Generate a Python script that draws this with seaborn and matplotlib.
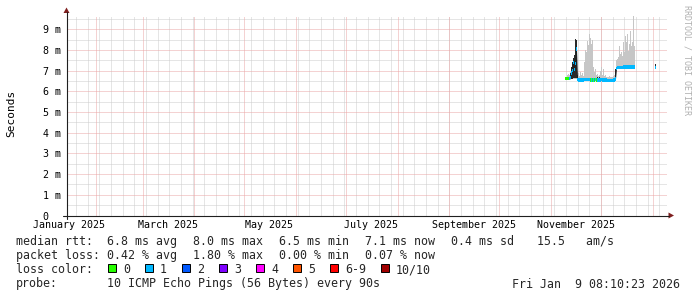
import numpy as np
import pandas as pd
import matplotlib
matplotlib.use("Agg")
import matplotlib.pyplot as plt
import seaborn as sns
from matplotlib.lines import Line2D
from matplotlib.patches import Rectangle, Polygon

# ---------------- data ----------------
axis_start = "2025-01-14 08:10:23"
axis_end = "2026-01-09 08:10:23"

seg_a_start = "2025-11-09 18:00"
seg_b_start = "2026-01-02 18:00"
step = "864min"  # one consolidated RRD step (~0.6 day per pixel)

seg_a_median = [6.62, 6.63, 6.62, 6.63, 6.64, 6.66, 6.90, 7.00, 7.40, 7.05,
                7.35, 8.05, 6.58, 6.56, 6.56, 6.55, 6.56, 6.56, 6.56, 6.57,
                6.57, 6.57, 6.57, 6.57, 6.57, 6.56, 6.56, 6.56, 6.56, 6.56,
                6.57, 6.56, 6.56, 6.56, 6.56, 6.56, 6.57, 6.56, 6.56, 6.55,
                6.55, 6.55, 6.54, 6.54, 6.54, 6.54, 6.54, 6.54, 6.55, 6.55,
                6.60, 7.10, 7.15, 7.17, 7.17, 7.17, 7.17, 7.17, 7.18, 7.18,
                7.18, 7.18, 7.18, 7.18, 7.18, 7.18, 7.18, 7.18, 7.18, 7.18]
seg_a_loss = [0, 0, 0, 0, 1, 1, 1, 1, 1, 1,
              1, 1, 1, 1, 1, 1, 1, 1, 1, 1,
              1, 1, 1, 1, 1, 0, 1, 0, 1, 0,
              1, 0, 1, 1, 1, 1, 1, 1, 1, 1,
              1, 1, 1, 1, 1, 1, 1, 1, 1, 1,
              1, 1, 1, 1, 1, 1, 1, 1, 1, 1,
              1, 1, 1, 1, 1, 1, 1, 1, 1, 1]
seg_a_smoke_lo = [6.55, 6.55, 6.55, 6.55, 6.55, 6.56, 6.58, 6.58, 6.60, 6.60,
                  6.60, 6.60, 6.52, 6.50, 6.50, 6.50, 6.50, 6.50, 6.50, 6.50,
                  6.50, 6.50, 6.50, 6.50, 6.50, 6.50, 6.50, 6.50, 6.50, 6.50,
                  6.50, 6.50, 6.50, 6.50, 6.50, 6.50, 6.50, 6.50, 6.50, 6.50,
                  6.50, 6.50, 6.49, 6.49, 6.49, 6.49, 6.49, 6.49, 6.49, 6.49,
                  6.50, 7.05, 7.08, 7.10, 7.10, 7.10, 7.10, 7.10, 7.10, 7.10,
                  7.10, 7.10, 7.10, 7.10, 7.10, 7.10, 7.10, 7.10, 7.10, 7.10]
seg_a_smoke_hi = [6.70, 6.72, 6.78, 6.85, 6.80, 6.95, 7.20, 7.45, 7.60, 7.75,
                  8.55, 8.50, 6.95, 6.90, 6.75, 6.92, 6.80, 6.90, 6.75, 7.45,
                  8.00, 7.90, 8.45, 8.25, 8.80, 8.60, 8.30, 8.50, 7.20, 6.95,
                  7.10, 6.80, 6.85, 6.75, 6.80, 7.00, 7.18, 6.80, 7.10, 6.75,
                  6.80, 6.70, 6.72, 6.70, 6.75, 6.72, 6.70, 6.72, 6.75, 6.80,
                  7.05, 7.50, 7.55, 7.65, 8.20, 7.80, 7.90, 7.70, 8.38, 7.90,
                  8.70, 8.40, 8.80, 7.95, 8.30, 8.95, 8.20, 8.40, 9.68, 8.20]
nan = np.nan
seg_a_dark_lo = [nan, nan, nan, nan, nan, 6.62, 6.62, 6.62, 6.65, 6.65,
                 6.65, 6.65, 6.58, nan, nan, nan, nan, nan, nan, nan,
                 nan, nan, nan, nan, nan, nan, nan, nan, nan, nan,
                 nan, nan, 6.58, nan, 6.58, nan, nan, nan, nan, nan,
                 nan, nan, nan, nan, nan, nan, nan, nan, nan, nan,
                 6.55, nan, nan, nan, nan, nan, nan, nan, nan, nan,
                 nan, nan, nan, nan, nan, nan, nan, nan, nan, nan]
seg_a_dark_hi = [nan, nan, nan, nan, nan, 6.90, 7.20, 7.45, 7.60, 7.75,
                 8.55, 8.50, 6.80, nan, nan, nan, nan, nan, nan, nan,
                 nan, nan, nan, nan, nan, nan, nan, nan, nan, nan,
                 nan, nan, 6.70, nan, 6.72, nan, nan, nan, nan, nan,
                 nan, nan, nan, nan, nan, nan, nan, nan, nan, nan,
                 7.10, nan, nan, nan, nan, nan, nan, nan, nan, nan,
                 nan, nan, nan, nan, nan, nan, nan, nan, nan, nan]

seg_b_median = [7.15]
seg_b_loss = [1]
seg_b_smoke_lo = [7.12]
seg_b_smoke_hi = [7.35]
seg_b_dark_lo = [7.15]
seg_b_dark_hi = [7.35]

loss_labels = ["0", "1", "2", "3", "4", "5", "6-9", "10/10"]
loss_colors = ["#26ff00", "#00b8ff", "#0059ff", "#7e00ff",
               "#ff00ff", "#ff5500", "#ff0000", "#a00000"]

y_ticks = [0, 1, 2, 3, 4, 5, 6, 7, 8, 9]
y_tick_labels = ["0  ", "1 m", "2 m", "3 m", "4 m", "5 m", "6 m", "7 m", "8 m", "9 m"]
y_max = 9.676

month_label_dates = ["2025-01-16", "2025-03-16", "2025-05-16",
                     "2025-07-16", "2025-09-16", "2025-11-16"]
month_labels = ["January 2025", "March 2025", "May 2025",
                "July 2025", "September 2025", "November 2025"]

row1_head = "median rtt:"
row1_items = ["6.8 ms avg", "8.0 ms max", "6.5 ms min", "7.1 ms now",
              "0.4 ms sd", "15.5   am/s"]
row2_head = "packet loss:"
row2_items = ["0.42 % avg", "1.80 % max", "0.00 % min", "0.07 % now"]
row3_head = "loss color:"
row4_head = "probe:"
row4_text = "10 ICMP Echo Pings (56 Bytes) every 90s"
stamp = "Fri Jan  9 08:10:23 2026"
y_title = "Seconds"
watermark = "RRDTOOL / TOBI OETIKER"

# ---------------- assemble tables ----------------
def segment(start, med, loss, lo, hi, dlo, dhi, seg_id):
    return pd.DataFrame({
        "time": pd.date_range(start, periods=len(med), freq=step),
        "median": med, "loss": loss, "lo": lo, "hi": hi,
        "dlo": dlo, "dhi": dhi, "seg": seg_id})

df = pd.concat([
    segment(seg_a_start, seg_a_median, seg_a_loss, seg_a_smoke_lo,
            seg_a_smoke_hi, seg_a_dark_lo, seg_a_dark_hi, 0),
    segment(seg_b_start, seg_b_median, seg_b_loss, seg_b_smoke_lo,
            seg_b_smoke_hi, seg_b_dark_lo, seg_b_dark_hi, 1),
], ignore_index=True)

# ---------------- figure ----------------
sns.set_theme(style="white")
plt.rcParams["font.family"] = ["DejaVu Sans Mono", "DejaVu Sans"]

W, H = 697, 297
def fx(x): return x / W
def fy(y): return 1 - y / H

L, R, T, B = 66.5, 666.5, 15.5, 215.5
fig = plt.figure(figsize=(W / 100, H / 100), dpi=100, facecolor="white")
ax = fig.add_axes([fx(L), fy(B), (R - L) / W, (B - T) / H])
ax.set_facecolor("white")
for s in ax.spines.values():
    s.set_visible(False)

t0, t1 = pd.Timestamp(axis_start), pd.Timestamp(axis_end)
ax.set_xlim(t0, t1)
ax.set_ylim(0, y_max)

minor_col = "#cdcdcd"
major_col = "#eba6a6"
dot = (0, (1, 1))

# grid
weeks = pd.date_range("2025-01-20", "2026-01-05", freq="W-MON")
months = pd.date_range("2025-02-01", "2026-01-01", freq="MS")
for d in weeks:
    ax.axvline(d, color=minor_col, lw=0.72, ls=dot, zorder=0)
for v in np.arange(0.5, y_max, 1.0):
    ax.axhline(v, color=minor_col, lw=0.72, ls=dot, zorder=0)
for d in months:
    ax.axvline(d, color=major_col, lw=0.72, ls=dot, zorder=0.5)
for v in y_ticks[1:]:
    ax.axhline(v, color=major_col, lw=0.72, ls=dot, zorder=0.5)

# smoke
bw = pd.Timedelta(step) * 1.05
ax.bar(df["time"], df["hi"] - df["lo"], bottom=df["lo"], width=bw,
       color="#c6c6c6", linewidth=0, zorder=2)
dk = df.dropna(subset=["dlo"])
ax.bar(dk["time"], dk["dhi"] - dk["dlo"], bottom=dk["dlo"], width=bw,
       color="#2a2a2a", linewidth=0, zorder=3)

# thin median line
sns.lineplot(data=df, x="time", y="median", units="seg", estimator=None,
             color="#202020", linewidth=0.7, ax=ax, zorder=4, legend=False)

# loss-coloured median
half = 0.08
ax.bar(df["time"], 2 * half, bottom=df["median"] - half, width=bw,
       color=[loss_colors[i] for i in df["loss"]], linewidth=0, zorder=5)

# ticks and labels
ax.set_xticks(pd.to_datetime(month_label_dates))
ax.set_xticklabels(month_labels)
ax.set_xticks(months, minor=True)
ax.tick_params(axis="x", which="major", length=0, pad=3.6, labelsize=7.2,
               colors="black")
ax.tick_params(axis="x", which="minor", length=1.6, width=0.72,
               color="#1f1f1f", direction="out")
ax.set_yticks(y_ticks)
ax.set_yticklabels(y_tick_labels)
ax.tick_params(axis="y", which="major", length=2.2, width=0.72,
               pad=2.0, labelsize=7.2, colors="black")
ax.tick_params(axis="y", which="major", color="#e08a8a")
ax.set_xlabel("")
ax.set_ylabel("")

# axes with arrows (rrdtool style)
axis_col = "#1f1f1f"
arrow_col = "#7f1f1f"
fig.add_artist(Line2D([fx(62.5), fx(669)], [fy(B), fy(B)], color=axis_col, lw=0.8))
fig.add_artist(Line2D([fx(L), fx(L)], [fy(219), fy(12)], color=axis_col, lw=0.8))
fig.add_artist(Polygon([(fx(668.5), fy(212.5)), (fx(674), fy(B)),
                        (fx(668.5), fy(218.5))], closed=True,
                       color=arrow_col, lw=0))
fig.add_artist(Polygon([(fx(63.5), fy(13)), (fx(L), fy(7.5)),
                        (fx(69.5), fy(13))], closed=True,
                       color=arrow_col, lw=0))

# titles
fig.text(fx(11), fy(113.5), y_title, rotation=90, ha="center", va="center",
         fontsize=8.0, color="black")
fig.text(fx(687.5), fy(5), watermark, rotation=-90, ha="center", va="top",
         fontsize=6.0, color="#b0b0b0")

# legend
fs = 8.37
cw = 7.0
col0, colv, dx = 16, 107.3, 86.0
rows_y = [245.0, 259.2, 273.3, 287.5]
fig.text(fx(col0), fy(rows_y[0]), row1_head, fontsize=fs, va="baseline")
for k, s in enumerate(row1_items):
    fig.text(fx(colv + k * dx), fy(rows_y[0]), s, fontsize=fs, va="baseline")
fig.text(fx(col0), fy(rows_y[1]), row2_head, fontsize=fs, va="baseline")
for k, s in enumerate(row2_items):
    fig.text(fx(colv + k * dx), fy(rows_y[1]), s, fontsize=fs, va="baseline")
fig.text(fx(col0), fy(rows_y[2]), row3_head, fontsize=fs, va="baseline")
bx = 108.0
for lab, colr in zip(loss_labels, loss_colors):
    fig.add_artist(Rectangle((fx(bx), fy(271.7)), 7.5 / W, 7.4 / H,
                             facecolor=colr, edgecolor="#000000", lw=0.7))
    fig.text(fx(bx + 15), fy(rows_y[2]), lab, fontsize=fs, va="baseline")
    bx = bx + 15 + len(lab) * cw + 15
fig.text(fx(col0), fy(rows_y[3]), row4_head, fontsize=fs, va="baseline")
fig.text(fx(colv), fy(rows_y[3]), row4_text, fontsize=fs, va="baseline")
fig.text(fx(680.5), fy(rows_y[3]), stamp, fontsize=fs, va="baseline", ha="right")

fig.savefig("out.png", dpi=100, facecolor="white")
